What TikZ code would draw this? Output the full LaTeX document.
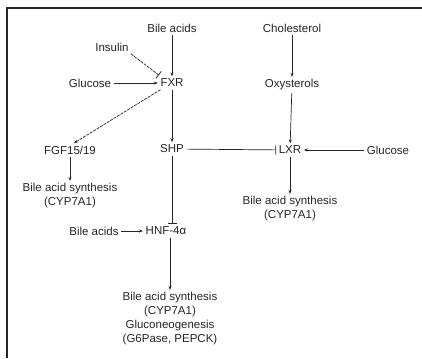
\documentclass[tikz,border=0pt]{standalone}
\usepackage{fontspec}
\setmainfont{Liberation Sans}
\usetikzlibrary{arrows.meta,calc}
\definecolor{ink}{HTML}{262626}
\begin{document}
\begin{tikzpicture}[x=1pt,y=-1pt,
  lbl/.style={text=ink,font=\fontsize{11.5}{14}\selectfont,inner sep=2.5pt,align=center},
  act/.style={draw=ink,line width=0.7pt,-{Stealth[length=4pt,width=3pt]}},
  inh/.style={draw=ink,line width=0.7pt,-{Bar[width=9pt,line width=0.8pt]}},
  brk/.style={dash pattern=on 3pt off 1pt},
  frame/.style={draw=ink,line width=1.3pt}]
\useasboundingbox (0,0) rectangle (422,358);
\fill[white] (0,0) rectangle (422,358);
% frame
\coordinate (ftl) at (7,8);
\coordinate (ftr) at (422,8);
\coordinate (fbl) at (7,358);
\draw[frame] (ftr) -- (ftl) -- (fbl);
% nodes
\node[lbl] (ba1) at (172,28) {Bile acids};
\node[lbl] (ins) at (112,47) {Insulin};
\node[lbl] (glu1) at (90,83) {Glucose};
\node[lbl] (fxr) at (172,83) {FXR};
\node[lbl] (chol) at (292,28) {Cholesterol};
\node[lbl] (oxy) at (292,85) {Oxysterols};
\node[lbl] (fgf) at (70,150) {FGF15/19};
\node[lbl] (shp) at (172,149) {SHP};
\node[lbl] (lxr) at (290,150) {LXR};
\node[lbl] (glu2) at (388,150) {Glucose};
\node[lbl] (bas1) at (70,196) {Bile acid synthesis\\(CYP7A1)};
\node[lbl] (bas2) at (290,209) {Bile acid synthesis\\(CYP7A1)};
\node[lbl] (ba2) at (94,231) {Bile acids};
\node[lbl] (hnf) at (166,231) {HNF-4α};
\node[lbl] (out) at (170,319) {Bile acid synthesis\\(CYP7A1)\\Gluconeogenesis\\(G6Pase, PEPCK)};
% connectors
\draw[act] (ba1) -- (fxr);
\draw[inh,brk,shorten >=2pt] (ins.-20) -- (fxr.150);
\draw[act] (glu1) -- (fxr);
\draw[act,brk] (fxr.-150) -- (fgf.60);
\draw[act] (fxr) -- (shp);
\draw[act] (fgf) -- (bas1);
\draw[act] (chol) -- (oxy);
\draw[act] (oxy) -- (lxr);
\draw[inh] (shp) -- (lxr);
\draw[act] (glu2) -- (lxr);
\draw[act] (lxr) -- (bas2);
\draw[inh] (shp.south) -- (shp.south |- hnf.north);
\draw[act] (ba2) -- (hnf);
\draw[act] (hnf.south -| out.north) -- (out);
\end{tikzpicture}
\end{document}
